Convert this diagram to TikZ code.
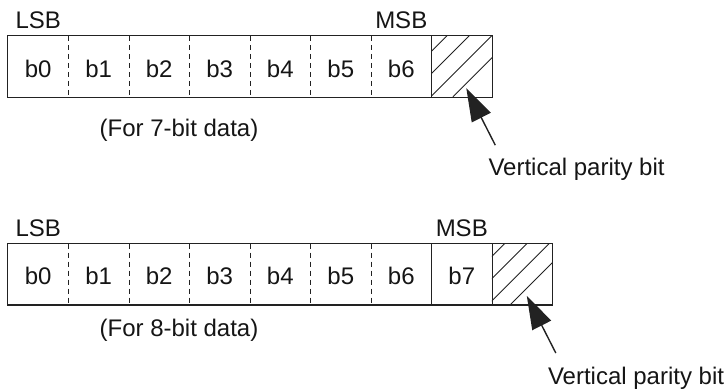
\documentclass[tikz,border=0pt]{standalone}
\usepackage{fontspec}
\setmainfont{Liberation Sans}
\usetikzlibrary{calc,arrows.meta}
\definecolor{ink}{HTML}{222222}
\definecolor{txt}{HTML}{151515}
\tikzset{
  cell/.style={rectangle, inner sep=0pt, minimum width=60.5pt, minimum height=61pt,
               text height=21pt, text depth=0pt, text=txt},
  box/.style={draw=ink, line width=1.3pt},
  divd/.style={draw=ink, line width=1.2pt, dash pattern=on 5pt off 4pt},
  divs/.style={draw=ink, line width=1.3pt},
  hatch/.style={draw=ink, line width=0.9pt},
  parr/.style={draw=ink, line width=1.4pt, -{Triangle[length=33pt,width=21pt]}},
  lbl/.style={inner sep=0pt, text=txt},
}
\begin{document}
\begin{tikzpicture}[x=1pt,y=-1pt,font=\fontsize{24}{28}\selectfont]
\useasboundingbox (0,0) rectangle (725,388);
% ---------- top row (7-bit data)
\foreach \i in {0,...,7}{
  \node[cell] (t\i) at ({8+60.5*(\i+0.5)},66.5) {\ifnum\i<7 b\i\fi};
}
\begin{scope}
  \clip (t7.north west) rectangle (t7.south east);
  \foreach \k in {-2,...,3}
    \draw[hatch] ($(t7.north west)+({15.7+22.3*\k},0)$) -- ++(-61,61);
\end{scope}
\foreach \i in {0,...,5}
  \draw[divd] (t\i.north east) -- (t\i.south east);
\draw[divs] (t6.north east) -- (t6.south east);
\draw[box] (t0.north west) rectangle (t7.south east);
\node[lbl, anchor=base] (lsb1) at ($(t0.north)+(0,-7.7)$) {LSB};
\node[lbl, anchor=base] (msb1) at ($(t6.north)+(0,-7.7)$) {MSB};
\node[lbl, anchor=base] (cap1) at (179,136.5) {(For 7-bit data)};
\coordinate (tip1) at ($(t7.south west)+(35,-9)$);
\coordinate (tail1) at ($(tip1)+(29,57)$);
\draw[parr] (tail1) -- (tip1);
\node[lbl, anchor=base west] (vp1) at ($(tail1)+(-7,30.5)$) {Vertical parity bit};
% ---------- bottom row (8-bit data)
\foreach \i in {0,...,8}{
  \node[cell] (u\i) at ({8+60.5*(\i+0.5)},274.3) {\ifnum\i<8 b\i\fi};
}
\begin{scope}
  \clip (u8.north west) rectangle (u8.south east);
  \foreach \k in {-2,...,3}
    \draw[hatch] ($(u8.north west)+({12.8+22.3*\k},0)$) -- ++(-61,61);
\end{scope}
\foreach \i in {0,...,5}
  \draw[divd] (u\i.north east) -- (u\i.south east);
\draw[divs] (u6.north east) -- (u6.south east);
\draw[divs] (u7.north east) -- (u7.south east);
\draw[box] (u0.north west) rectangle (u8.south east);
\node[lbl, anchor=base] (lsb2) at ($(u0.north)+(0,-7.3)$) {LSB};
\node[lbl, anchor=base] (msb2) at ($(u7.north)+(0,-7.3)$) {MSB};
\node[lbl, anchor=base] (cap2) at (179,336.5) {(For 8-bit data)};
\coordinate (tip2) at ($(u8.south west)+(35,-9)$);
\coordinate (tail2) at ($(tip2)+(29,57)$);
\draw[parr] (tail2) -- (tip2);
\node[lbl, anchor=base west] (vp2) at ($(tail2)+(-8,31)$) {Vertical parity bit};
\end{tikzpicture}
\end{document}
